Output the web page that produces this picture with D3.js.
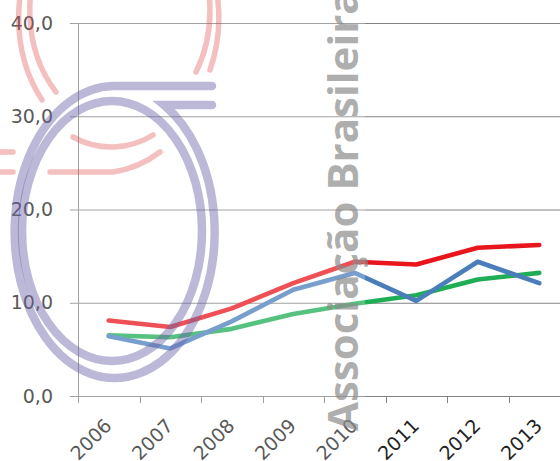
<!DOCTYPE html>
<html>
<head>
<meta charset="utf-8">
<script src="https://cdn.jsdelivr.net/npm/d3@7"></script>
<style>
  html, body { margin: 0; padding: 0; background: #ffffff; }
  svg { display: block; }
</style>
</head>
<body>
<svg id="chart" width="560" height="461"></svg>
<script>
// Categories and series
const years = ["2006", "2007", "2008", "2009", "2010", "2011", "2012", "2013"];
const serieVermelha = [8.1, 7.4, 9.4, 12.1, 14.4, 14.1, 15.9, 16.2];
const serieAzul     = [6.4, 5.1, 8.0, 11.4, 13.2, 10.2, 14.4, 12.1];
const serieVerde    = [6.5, 6.3, 7.2, 8.8, 9.9, 10.8, 12.5, 13.2];
const yTicks = [0, 10, 20, 30, 40];
const seriesColors = { vermelha: "#e8161c", azul: "#4a7ebb", verde: "#1fae55" };

const W = 560, H = 461;
const svg = d3.select("#chart");

const x = d3.scaleBand().domain(years).range([78, 570]).paddingInner(0).paddingOuter(0);
const y = d3.scaleLinear().domain([0, 40]).range([396, 23]);

const ptBR = d3.formatLocale({ decimal: ",", thousands: ".", grouping: [3], currency: ["R$", ""] });
const fmt = ptBR.format(".1f");

const labelFont = "DejaVu Sans, Verdana, sans-serif";

// Horizontal gridlines + y tick labels
const yAxis = d3.axisLeft(y)
  .tickValues(yTicks)
  .tickFormat(fmt)
  .tickSize(-(W - 70))
  .tickPadding(17);

const gy = svg.append("g").attr("transform", "translate(70,0)").call(yAxis);
gy.select(".domain").remove();
gy.selectAll(".tick line").attr("stroke", "#828282").attr("stroke-width", 1);
gy.selectAll(".tick text")
  .attr("font-family", labelFont)
  .attr("font-size", 19)
  .attr("fill", "#222222");

// Vertical axis line
svg.append("line")
  .attr("x1", 78.5).attr("x2", 78.5)
  .attr("y1", y(40)).attr("y2", y(0) + 7)
  .attr("stroke", "#828282").attr("stroke-width", 1);

// Category tick marks at band boundaries
const boundaries = years.map(d => x(d)).concat([x.range()[1]]);
svg.append("g").selectAll("line")
  .data(boundaries)
  .join("line")
  .attr("x1", d => Math.round(d) + 0.5).attr("x2", d => Math.round(d) + 0.5)
  .attr("y1", y(0)).attr("y2", y(0) + 7)
  .attr("stroke", "#828282").attr("stroke-width", 1);

// Rotated category labels
const xAxis = d3.axisBottom(x).tickSize(0).tickPadding(0);
const gx = svg.append("g").attr("transform", "translate(0," + y(0) + ")").call(xAxis);
gx.select(".domain").remove();
gx.selectAll(".tick text")
  .attr("font-family", labelFont)
  .attr("font-size", 19)
  .attr("fill", "#222222")
  .attr("text-anchor", "end")
  .attr("dy", 0)
  .attr("y", 0)
  .attr("transform", "translate(4,31) rotate(-45)");

// Series lines
const line = d3.line()
  .x((d, i) => x(years[i]) + x.bandwidth() / 2)
  .y(d => y(d))
  .curve(d3.curveLinear);

const series = [
  { name: "verde", values: serieVerde, color: seriesColors.verde },
  { name: "vermelha", values: serieVermelha, color: seriesColors.vermelha },
  { name: "azul", values: serieAzul, color: seriesColors.azul }
];

svg.append("g").selectAll("path")
  .data(series)
  .join("path")
  .attr("d", d => line(d.values))
  .attr("fill", "none")
  .attr("stroke", d => d.color)
  .attr("stroke-width", 4.6)
  .attr("stroke-linejoin", "round")
  .attr("stroke-linecap", "round");

// Watermark: translucent panel, emblem and institution name
const wm = svg.append("g").attr("class", "watermark");

wm.append("rect")
  .attr("x", 0).attr("y", 0)
  .attr("width", 365).attr("height", H)
  .attr("fill", "#ffffff")
  .attr("opacity", 0.25);

const redMark = wm.append("g")
  .attr("fill", "none")
  .attr("stroke", "#e04848")
  .attr("stroke-opacity", 0.35)
  .attr("stroke-width", 5.5)
  .attr("stroke-linecap", "round");

redMark.append("path").attr("d", "M42,100 A100,128 0 1,1 210,70");
redMark.append("path").attr("d", "M56,92 A90,116 0 1,1 196,72");
redMark.append("path").attr("d", "M73,137 A78,78 0 0,0 153,135");
redMark.append("path").attr("d", "M50,172 L113,172 A103,103 0 0,0 160,152");
redMark.append("path").attr("d", "M-10,152 L13,152");
redMark.append("path").attr("d", "M-10,172 L13,172");

const blueMark = wm.append("g")
  .attr("fill", "none")
  .attr("stroke", "#6a61a6")
  .attr("stroke-opacity", 0.45)
  .attr("stroke-width", 8.5)
  .attr("stroke-linecap", "round");

blueMark.append("path").attr("d", "M212,86 L113,86 A100,146 0 1,0 164,105 L212,105");
blueMark.append("ellipse")
  .attr("cx", 112).attr("cy", 231)
  .attr("rx", 90).attr("ry", 130);

wm.append("text")
  .attr("transform", "translate(358,431) rotate(-90)")
  .attr("font-family", "Open Sans, sans-serif")
  .attr("font-weight", 700)
  .attr("font-size", 42)
  .attr("fill", "#8a8a8a")
  .attr("fill-opacity", 0.7)
  .text("Associação Brasileira");
</script>
</body>
</html>
